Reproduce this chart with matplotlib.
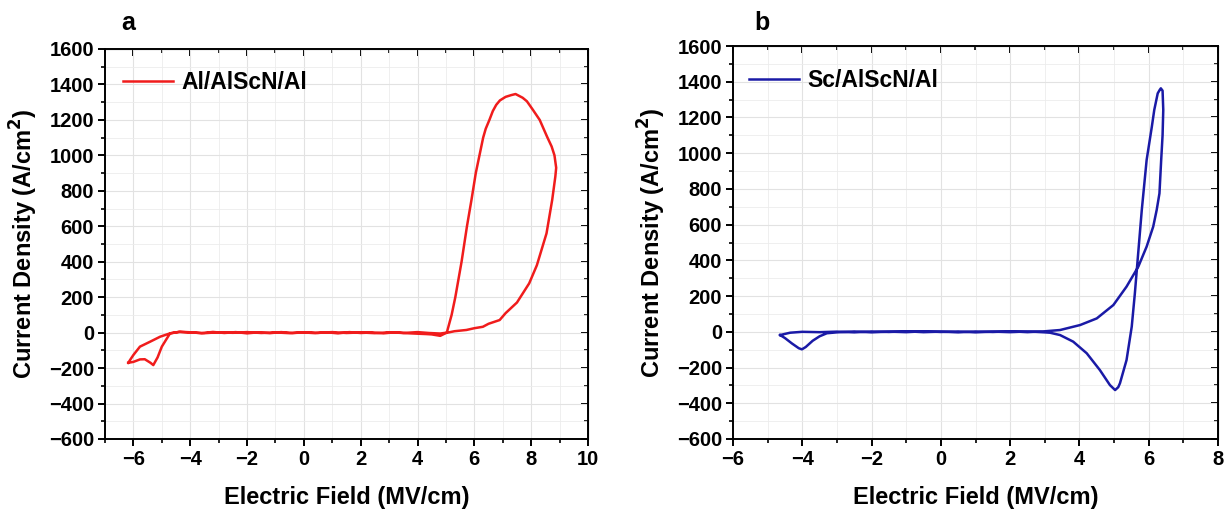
import matplotlib
matplotlib.use("Agg")
import matplotlib.pyplot as plt
from matplotlib.ticker import MultipleLocator

plt.rcParams['font.family'] = ['Liberation Sans', 'DejaVu Sans']
plt.rcParams['font.weight'] = 'bold'
plt.rcParams['axes.labelweight'] = 'bold'

# ---------------- data ----------------
# Panel a : Al/AlScN/Al  (closed I-E loop)
field_a = [-6.18, -6.10, -6.00, -5.77, -5.41, -5.06, -4.71, -4.36,
           -4.0, -3.6, -3.2, -2.8, -2.4, -2.0, -1.6, -1.2, -0.8, -0.4, 0.0,
           0.4, 0.8, 1.2, 1.6, 2.0, 2.4, 2.8, 3.2, 3.6, 4.0, 4.3, 4.5, 4.65, 4.8,
           5.0, 5.3, 5.72, 6.0, 6.3, 6.5, 6.89, 7.1, 7.5, 7.93, 8.2, 8.54, 8.74,
           8.85, 8.88, 8.82, 8.72, 8.56, 8.3, 8.06, 7.85, 7.7, 7.45, 7.3,
           7.1, 6.9, 6.77, 6.65, 6.53, 6.4, 6.31, 6.18, 6.05, 5.9, 5.74, 5.55,
           5.33, 5.2, 5.03, 4.8, 4.4, 4.0, 3.5, 3.0, 2.5, 2.0, 1.5, 1.0, 0.5,
           0.0, -0.5, -1.0, -1.5, -2.0, -2.5, -3.0, -3.5, -4.0, -4.4, -4.71,
           -4.85, -5.0, -5.15, -5.30, -5.4, -5.6, -5.77, -6.0, -6.18]
current_a = [-170, -150, -126, -79, -51, -23, -4, 5,
             2, -3, 4, -2, 3, -4, 2, -3, 3, -2, 1,
             -3, 2, -4, 3, -2, 1, -4, 2, -3, -6, -8, -10, -14, -18,
             -2, 8, 15, 25, 33, 50, 71, 110, 170, 278, 380, 560, 749,
             880, 930, 1000, 1050, 1105, 1200, 1257, 1305, 1325, 1346, 1340,
             1330, 1310, 1285, 1250, 1200, 1150, 1100, 1000, 900, 750, 600, 400,
             200, 100, 0, -5, -2, 3, -2, 2, -3, 1, -2, 3, -1,
             2, -3, 1, -2, 3, -1, 2, -3, 1, 4, -4,
             -40, -79, -140, -183, -170, -150, -151, -165, -170]

# Panel b : Sc/AlScN/Al
field_b = [-4.64, -4.5, -4.3, -4.1, -4.01, -3.9, -3.7, -3.5, -3.29, -3.0,
           -2.5, -2.0, -1.5, -1.0, -0.5, 0.0, 0.5, 1.0, 1.5, 2.0, 2.5, 3.0, 3.15,
           3.44, 3.82, 4.21, 4.59, 4.88, 5.03, 5.12, 5.17, 5.36, 5.51, 5.60,
           5.68, 5.80, 5.94, 6.09, 6.16, 6.26, 6.32, 6.35, 6.40, 6.42, 6.40,
           6.36, 6.31, 6.23, 6.13, 5.94, 5.70, 5.36, 4.98, 4.5, 4.02, 3.44, 3.0,
           2.5, 2.0, 1.5, 1.0, 0.5, 0.0, -0.5, -1.0, -1.5, -2.0, -2.5, -3.0,
           -3.5, -4.0, -4.35, -4.64]
current_b = [-18, -35, -65, -92, -98, -85, -50, -25, -8, -3,
             2, -3, 1, -2, 3, -1, 2, -3, 1, -2, 2, -3, -5,
             -18, -55, -120, -214, -298, -326, -310, -288, -158, 29, 215,
             402, 682, 962, 1148, 1242, 1335, 1355, 1363, 1350, 1242, 1100,
             962, 775, 682, 589, 477, 365, 253, 150, 75, 38, 10, 3,
             -2, 3, -1, 2, -3, 1, -2, 3, -1, 2, -3, 1,
             -2, 0, -5, -18]

label_a = "Al/AlScN/Al"
label_b = "Sc/AlScN/Al"
color_a = "#f01c1c"
color_b = "#1a1aa6"

xlabel = "Electric Field (MV/cm)"
ylabel = "Current Density (A/cm$^{\\mathbf{2}}$)"

# ---------------- figure ----------------
fig = plt.figure(figsize=(12.27, 5.14), dpi=100)
ax1 = fig.add_axes([105/1227, 75/514, 483/1227, 390/514])
ax2 = fig.add_axes([733/1227, 75/514, 485/1227, 393/514])

TICK_FS = 14.5


def style(ax, xlim, xmaj, panel, xpanel):
    ax.set_xlim(*xlim)
    ax.set_ylim(-600, 1600)
    ax.xaxis.set_major_locator(MultipleLocator(xmaj))
    ax.xaxis.set_minor_locator(MultipleLocator(1))
    ax.yaxis.set_major_locator(MultipleLocator(200))
    ax.yaxis.set_minor_locator(MultipleLocator(100))
    ax.grid(which='major', color='#e2e2e2', lw=0.8)
    ax.grid(which='minor', color='#ececec', lw=0.6)
    ax.set_axisbelow(True)
    for s in ax.spines.values():
        s.set_linewidth(1.4)
    ax.tick_params(which='major', direction='out', length=5, width=1.4,
                   labelsize=TICK_FS, pad=3)
    ax.tick_params(which='minor', direction='out', length=3, width=1.2)
    for lab in ax.get_xticklabels() + ax.get_yticklabels():
        lab.set_fontweight('bold')
    # inward ticks on top and right
    top = ax.secondary_xaxis('top')
    top.xaxis.set_major_locator(MultipleLocator(xmaj))
    top.xaxis.set_minor_locator(MultipleLocator(1))
    top.tick_params(which='major', direction='in', length=5, width=1.4, labeltop=False)
    top.tick_params(which='minor', direction='in', length=3, width=1.2)
    right = ax.secondary_yaxis('right')
    right.yaxis.set_major_locator(MultipleLocator(200))
    right.yaxis.set_minor_locator(MultipleLocator(100))
    right.tick_params(which='major', direction='in', length=5, width=1.4, labelright=False)
    right.tick_params(which='minor', direction='in', length=3, width=1.2)
    ax.set_xlabel(xlabel, fontsize=17, fontweight='bold', labelpad=12)
    ax.set_ylabel(ylabel, fontsize=17, fontweight='bold', labelpad=6)
    fig.text(xpanel, 1 - 23/514, panel, fontsize=18, fontweight='bold',
             ha='center', va='center')


ax1.plot(field_a, current_a, color=color_a, lw=1.8, label=label_a)
ax2.plot(field_b, current_b, color=color_b, lw=1.8, label=label_b)

style(ax1, (-7, 10), 2, 'a', 128/1227)
style(ax2, (-6, 8), 2, 'b', 762/1227)

for ax, bx in ((ax1, 0.037), (ax2, 0.033)):
    ax.legend(loc='center left', bbox_to_anchor=(bx, 0.913), frameon=False,
              handlelength=2.2, handletextpad=0.36, borderpad=0,
              borderaxespad=0, prop={'weight': 'bold', 'size': 16.5})

fig.savefig("out.png", dpi=100)
